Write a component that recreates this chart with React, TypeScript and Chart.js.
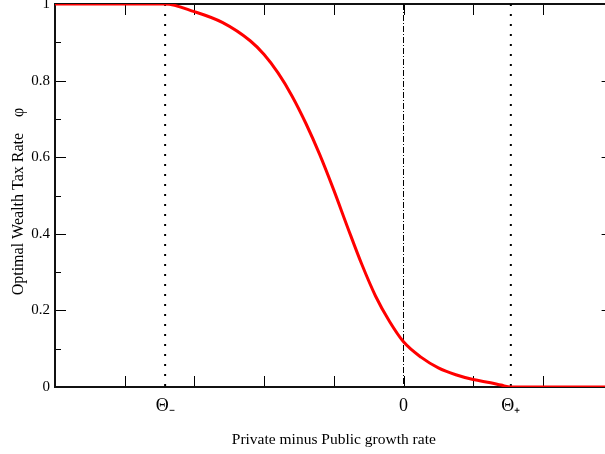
import { useEffect, useRef } from 'react';
import { Chart, registerables } from 'chart.js';

Chart.register(...registerables);

// ---- data ----
const THETA_MINUS = -3.42;
const THETA_PLUS = 1.54;
const X_MIN = -5;
const X_MAX = 3;

const curveX = [-5, -3.42, -3.0, -2.6, -2.2, -2.0, -1.8, -1.6, -1.4, -1.2, -1.0, -0.8, -0.6, -0.4, -0.2, 0, 0.25, 0.5, 0.75, 1.0, 1.25, 1.4, 1.54, 3];
const curveY = [1, 1, 0.98, 0.952, 0.904, 0.868, 0.82, 0.76, 0.688, 0.606, 0.514, 0.416, 0.321, 0.237, 0.171, 0.118, 0.078, 0.05, 0.032, 0.0195, 0.011, 0.005, 0, 0];

const xLabelTicks = [THETA_MINUS, 0, THETA_PLUS];
const xLabelTexts = ['Θ₋', '0', 'Θ₊'];
const xMajorTicks = [-4, -3, -2, -1, 0, 1, 2];
const yMajorTicks = [0, 0.2, 0.4, 0.6, 0.8, 1];
const yMinorTicks = [0.1, 0.3, 0.5, 0.7, 0.9];
const yTickTexts = ['0', '0.2', '0.4', '0.6', '0.8', '1'];

const X_TITLE = 'Private minus Public growth rate';
const Y_TITLE = 'Optimal Wealth Tax Rate    φ   ';

const SERIF = '"Liberation Serif", "Times New Roman", serif';

const framePlugin = {
  id: 'frame',
  beforeDatasetsDraw(chart: any) {
    const { ctx, chartArea: a, scales } = chart;
    const xs = scales.x;
    const ys = scales.y;
    ctx.save();
    ctx.strokeStyle = '#000';
    ctx.lineWidth = 1;
    ctx.beginPath();
    for (const v of xMajorTicks) {
      const px = Math.round(xs.getPixelForValue(v)) + 0.5;
      ctx.moveTo(px, a.bottom);
      ctx.lineTo(px, a.bottom - 11);
      ctx.moveTo(px, a.top);
      ctx.lineTo(px, a.top + 11);
    }
    for (const v of yMajorTicks) {
      const py = Math.round(ys.getPixelForValue(v)) + 0.5;
      ctx.moveTo(a.left, py);
      ctx.lineTo(a.left + 11, py);
      ctx.moveTo(a.right, py);
      ctx.lineTo(a.right - 11, py);
    }
    for (const v of yMinorTicks) {
      const py = Math.round(ys.getPixelForValue(v)) + 0.5;
      ctx.moveTo(a.left, py);
      ctx.lineTo(a.left + 6, py);
      ctx.moveTo(a.right, py);
      ctx.lineTo(a.right - 6, py);
    }
    ctx.stroke();
    ctx.lineWidth = 2;
    ctx.strokeStyle = '#111';
    ctx.strokeRect(a.left, a.top, a.right - a.left, a.bottom - a.top);
    ctx.restore();
  },
};

export default function App() {
  const ref = useRef<HTMLCanvasElement | null>(null);

  useEffect(() => {
    if (!ref.current) return;
    const vline = (xv: number) => [
      { x: xv, y: 1 },
      { x: xv, y: 0 },
    ];
    const chart = new Chart(ref.current, {
      type: 'line',
      data: {
        datasets: [
          {
            data: curveX.map((x, i) => ({ x, y: curveY[i] })),
            borderColor: '#ff0000',
            borderWidth: 3,
            pointRadius: 0,
            cubicInterpolationMode: 'monotone',
            order: 0,
          },
          {
            data: vline(THETA_MINUS),
            borderColor: '#000',
            borderWidth: 2,
            borderDash: [2, 8],
            pointRadius: 0,
            order: 1,
          },
          {
            data: vline(THETA_PLUS),
            borderColor: '#000',
            borderWidth: 2,
            borderDash: [2, 8],
            pointRadius: 0,
            order: 1,
          },
          {
            data: vline(0),
            borderColor: '#000',
            borderWidth: 1,
            borderDash: [6, 2, 1, 2],
            pointRadius: 0,
            order: 1,
          },
        ],
      } as any,
      options: {
        animation: false,
        responsive: false,
        devicePixelRatio: 1,
        layout: { padding: { top: 4, right: 7.4, left: 0, bottom: 0 } },
        plugins: { legend: { display: false }, tooltip: { enabled: false } },
        scales: {
          x: {
            type: 'linear',
            min: X_MIN,
            max: X_MAX,
            grid: { display: false, drawTicks: false },
            border: { display: false },
            afterBuildTicks: (s: any) => {
              s.ticks = xLabelTicks.map((v) => ({ value: v }));
            },
            afterFit: (s: any) => {
              s.height = 67;
              s.paddingLeft = 0;
              s.paddingRight = 0;
            },
            ticks: {
              autoSkip: false,
              maxRotation: 0,
              padding: 8,
              color: '#000',
              font: { family: SERIF, size: 18 },
              callback: (v: any) => {
                const i = xLabelTicks.indexOf(Number(v));
                return i >= 0 ? xLabelTexts[i] : '';
              },
            },
            title: {
              display: true,
              text: X_TITLE,
              color: '#000',
              font: { family: SERIF, size: 15.5 },
              padding: { top: 0, bottom: 5 },
            },
          },
          y: {
            type: 'linear',
            min: 0,
            max: 1,
            grid: { display: false, drawTicks: false },
            border: { display: false },
            afterBuildTicks: (s: any) => {
              s.ticks = yMajorTicks.map((v) => ({ value: v }));
            },
            afterFit: (s: any) => {
              s.width = 55;
              s.paddingTop = 0;
              s.paddingBottom = 0;
            },
            ticks: {
              autoSkip: false,
              padding: 5,
              color: '#000',
              font: { family: SERIF, size: 15 },
              callback: (v: any) => {
                const i = yMajorTicks.findIndex((t) => Math.abs(t - Number(v)) < 1e-9);
                return i >= 0 ? yTickTexts[i] : '';
              },
            },
            title: {
              display: true,
              text: Y_TITLE,
              color: '#000',
              font: { family: SERIF, size: 16 },
              padding: { top: 9, bottom: 0 },
            },
          },
        },
      },
      plugins: [framePlugin],
    } as any);
    return () => chart.destroy();
  }, []);

  return (
    <div style={{ position: 'fixed', left: 0, top: 0, width: 605, height: 454, overflow: 'hidden', background: '#fff' }}>
      <canvas ref={ref} width={620} height={454} style={{ display: 'block' }} />
    </div>
  );
}
